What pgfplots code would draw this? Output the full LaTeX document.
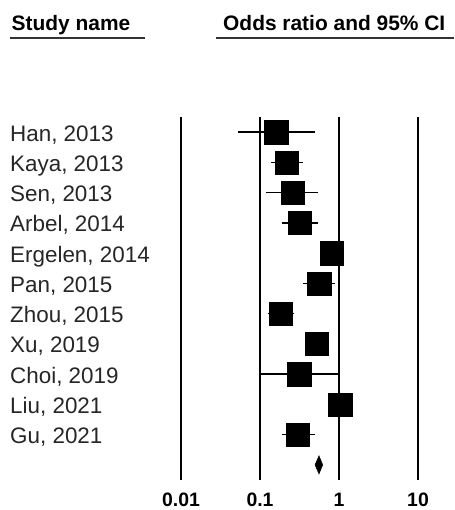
\documentclass[border=0pt]{standalone}
\usepackage{pgfplots}
\pgfplotsset{compat=1.18}
\usepackage{fontspec}
\setmainfont{Liberation Sans}
\begin{document}
\begin{tikzpicture}
\begin{axis}[
  scale only axis, width=292.3bp, height=363bp,
  xmode=log, xmin=0.0056234, xmax=28.1838,
  ymin=0.5, ymax=12.5, y dir=reverse,
  axis line style={draw=none}, major tick length=0pt, tick style={draw=none},
  xtick={0.01,0.1,1,10}, xticklabels={0.01,0.1,1,10},
  xticklabel style={font=\fontsize{19.5}{20}\selectfont\bfseries, inner sep=0pt, anchor=north, yshift=-12.5bp},
  xmajorgrids, major grid style={black, line width=2bp},
  ytick={1,...,11},
  yticklabels={{Han, 2013},{Kaya, 2013},{Sen, 2013},{Arbel, 2014},{Ergelen, 2014},{Pan, 2015},{Zhou, 2015},{Xu, 2019},{Choi, 2019},{Liu, 2021},{Gu, 2021}},
  yticklabel style={font=\fontsize{22.5}{24}\selectfont, text=black!85, inner sep=0pt, anchor=base west, xshift=-151.25bp, yshift=-9bp},
  clip=false,
]
% confidence intervals
\addplot[black, line width=1.5bp, unbounded coords=jump] coordinates {
  (0.053,1) (0.49,1) (nan,nan)
  (0.137,2) (0.35,2) (nan,nan)
  (0.12,3) (0.54,3) (nan,nan)
  (0.19,4) (0.54,4) (nan,nan)
  (0.60,5) (1.05,5) (nan,nan)
  (0.35,6) (0.89,6) (nan,nan)
  (0.127,7) (0.27,7) (nan,nan)
  (0.40,8) (0.68,8) (nan,nan)
  (0.10,9) (1.00,9) (nan,nan)
  (0.80,10) (1.30,10) (nan,nan)
  (0.19,11) (0.49,11)
};
% point estimates
\addplot[only marks, mark=square*, mark size=11.7bp, mark options={fill=black, draw=black, line width=0.3bp}] coordinates {
  (0.160,1) (0.218,2) (0.260,3) (0.320,4) (0.810,5) (0.560,6)
  (0.183,7) (0.520,8) (0.313,9) (1.030,10) (0.300,11)
};
% summary diamond
\addplot[fill=black, draw=black, line width=0.5bp] coordinates {
  (0.497,12) (0.558,11.7) (0.622,12) (0.558,12.3) (0.497,12)
};
\coordinate (T) at (axis cs:0.0056234,0.5);
\end{axis}
\begin{scope}[shift={(T)}]
\begin{scope}[xshift=-161.25bp, yshift=117bp, x=1bp, y=-1bp]
  \path (0,0) rectangle (454,510);
  \node[anchor=base west, inner sep=0pt, font=\fontsize{21}{22}\selectfont\bfseries] at (11.5,30.7) {Study name};
  \draw[line width=2bp, black!80] (10,37.7) -- (145,37.7);
  \node[anchor=base west, inner sep=0pt, font=\fontsize{21}{22}\selectfont\bfseries] at (223,30.7) {Odds ratio and 95\% CI};
  \draw[line width=2bp, black!80] (216,37.7) -- (454,37.7);
\end{scope}
\end{scope}
\end{tikzpicture}
\end{document}
